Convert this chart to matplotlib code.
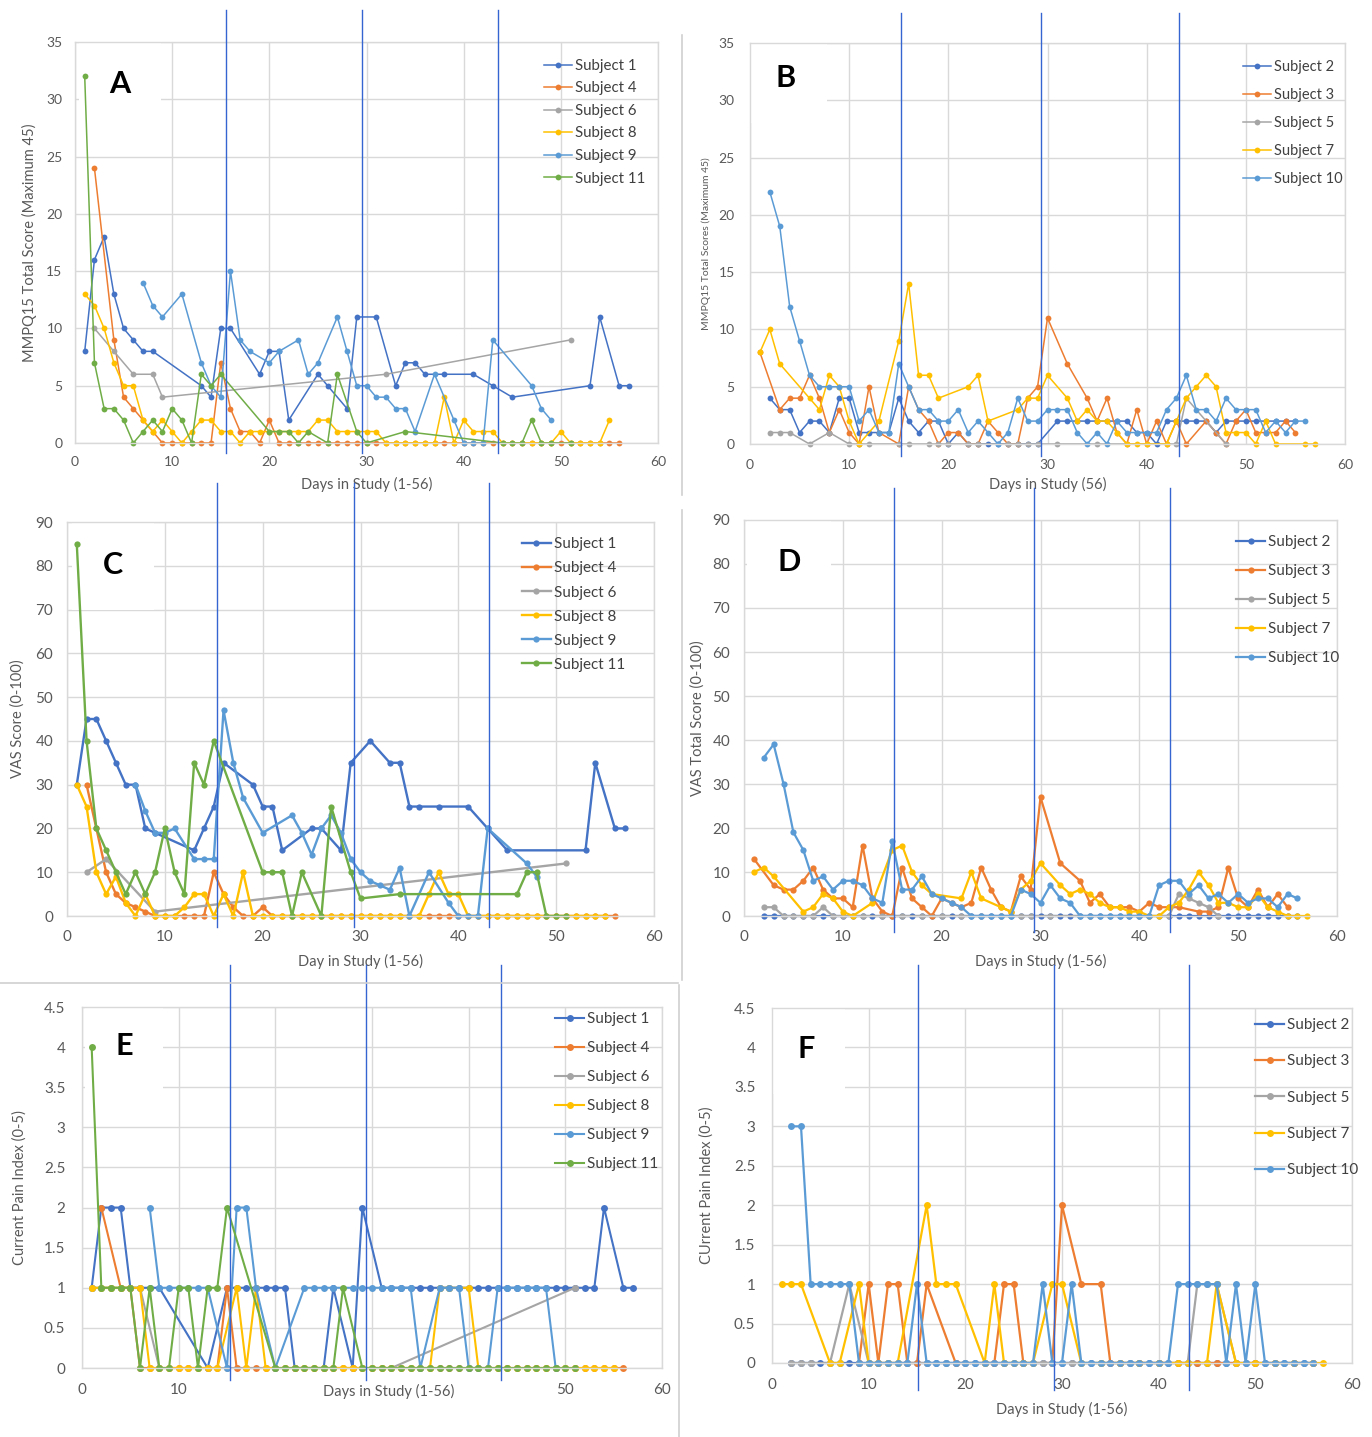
"""Six-panel daily pain score chart (MMPQ15, VAS, Current Pain Index) by subject."""

import matplotlib
matplotlib.use("Agg")
from matplotlib import pyplot as plt
from matplotlib.lines import Line2D

plt.rcParams["font.family"] = ["Lato", "DejaVu Sans"]

# ---- data: (day, value) pairs ----------------------------------------------
# Panel A: MMPQ15, group 1
A_S1 = [(1, 8), (2, 16), (3, 18), (4, 13), (5, 10), (6, 9), (7, 8), (8, 8), (13, 5), (14, 4),
        (15, 10), (16, 10), (19, 6), (20, 8), (21, 8), (22, 2), (25, 6), (26, 5), (28, 3),
        (29, 11), (31, 11), (33, 5), (34, 7), (35, 7), (36, 6), (38, 6), (41, 6), (43, 5),
        (45, 4), (53, 5), (54, 11), (56, 5), (57, 5)]
A_S4 = [(2, 24), (4, 9), (5, 4), (6, 3), (7, 2), (8, 1), (9, 0), (10, 0), (11, 0), (12, 0),
        (13, 0), (14, 0), (15, 7), (16, 3), (17, 1), (18, 1), (19, 0), (20, 2), (21, 0), (22, 0),
        (23, 0), (24, 0), (25, 0), (26, 0), (27, 0), (28, 0), (29, 0), (30, 0), (31, 0), (32, 0),
        (33, 0), (34, 0), (35, 0), (36, 0), (37, 0), (38, 0), (39, 0), (40, 0), (41, 0), (42, 0),
        (43, 0), (44, 0), (45, 0), (46, 0), (47, 0), (48, 0), (49, 0), (50, 0), (51, 0), (52, 0),
        (53, 0), (54, 0), (55, 0), (56, 0)]
A_S6 = [(2, 10), (4, 8), (6, 6), (8, 6), (9, 4), (32, 6), (51, 9)]
A_S8 = [(1, 13), (2, 12), (3, 10), (4, 7), (5, 5), (6, 5), (7, 2), (8, 1), (9, 2), (10, 1),
        (11, 0), (12, 1), (13, 2), (14, 2), (15, 1), (16, 1), (17, 0), (18, 1), (19, 1), (20, 1),
        (21, 1), (22, 1), (23, 1), (24, 1), (25, 2), (26, 2), (27, 1), (28, 1), (29, 1), (30, 1),
        (31, 1), (32, 0), (33, 0), (34, 0), (35, 0), (36, 0), (37, 0), (38, 4), (39, 0), (40, 2),
        (41, 1), (42, 1), (43, 1), (44, 0), (45, 0), (46, 0), (47, 0), (48, 0), (49, 0), (50, 1),
        (51, 0), (52, 0), (53, 0), (54, 0), (55, 2)]
A_S9 = [(7, 14), (8, 12), (9, 11), (11, 13), (13, 7), (14, 5), (15, 4), (16, 15), (17, 9),
        (18, 8), (20, 7), (21, 8), (23, 9), (24, 6), (25, 7), (27, 11), (28, 8), (29, 5), (30, 5),
        (31, 4), (32, 4), (33, 3), (34, 3), (35, 1), (37, 6), (39, 2), (40, 0), (41, 0), (42, 0),
        (43, 9), (47, 5), (48, 3), (49, 2)]
A_S11 = [(1, 32), (2, 7), (3, 3), (4, 3), (5, 2), (6, 0), (7, 1), (8, 2), (9, 1), (10, 3),
         (11, 2), (12, 0), (13, 6), (14, 5), (15, 6), (20, 1), (21, 1), (22, 1), (23, 0), (24, 1),
         (26, 0), (27, 6), (29, 1), (30, 0), (34, 1), (44, 0), (45, 0), (46, 0), (47, 2), (48, 0),
         (49, 0), (51, 0)]

# Panel B: MMPQ15, group 2
B_S2 = [(2, 4), (3, 3), (4, 3), (5, 1), (6, 2), (7, 2), (8, 1), (9, 4), (10, 4), (11, 1),
        (12, 1), (13, 1), (14, 1), (15, 4), (16, 2), (17, 1), (18, 2), (19, 2), (20, 0), (21, 1),
        (22, 0), (23, 0), (24, 0), (25, 0), (26, 0), (27, 0), (28, 0), (29, 0), (31, 2), (32, 2),
        (33, 2), (34, 2), (35, 2), (36, 2), (37, 2), (38, 2), (39, 1), (40, 1), (41, 0), (42, 2),
        (43, 2), (44, 2), (45, 2), (46, 2), (47, 1), (48, 2), (49, 2), (50, 2), (51, 2), (52, 2),
        (53, 2), (54, 2), (55, 2)]
B_S3 = [(1, 8), (3, 3), (4, 4), (5, 4), (6, 6), (7, 4), (8, 1), (9, 3), (10, 1), (11, 0),
        (12, 5), (13, 1), (15, 0), (16, 5), (17, 3), (18, 2), (19, 0), (20, 1), (21, 1), (22, 0),
        (23, 0), (24, 2), (25, 1), (26, 0), (27, 0), (28, 4), (29, 5), (30, 11), (32, 7), (34, 4),
        (35, 2), (36, 4), (37, 1), (38, 0), (39, 3), (40, 0), (41, 2), (42, 0), (43, 2), (44, 0),
        (46, 2), (47, 1), (48, 0), (49, 2), (50, 3), (51, 1), (52, 1), (53, 1), (54, 2), (55, 1)]
B_S5 = [(2, 1), (3, 1), (4, 1), (6, 0), (8, 1), (10, 0), (11, 0), (12, 0), (15, 0), (16, 0),
        (18, 0), (19, 0), (20, 0), (22, 0), (23, 0), (26, 0), (27, 0), (28, 0), (29, 0), (31, 0),
        (35, 0), (43, 0), (44, 4), (48, 0)]
B_S7 = [(1, 8), (2, 10), (3, 7), (6, 4), (7, 3), (8, 6), (9, 5), (10, 2), (11, 0), (13, 2),
        (15, 9), (16, 14), (17, 6), (18, 6), (19, 4), (22, 5), (23, 6), (24, 2), (27, 3), (28, 4),
        (29, 4), (30, 6), (32, 4), (33, 2), (34, 3), (35, 2), (36, 2), (37, 1), (38, 0), (39, 0),
        (40, 0), (42, 0), (43, 2), (44, 4), (45, 5), (46, 6), (47, 5), (48, 1), (49, 1), (50, 1),
        (51, 0), (52, 2), (53, 0), (56, 0), (57, 0)]
B_S10 = [(2, 22), (3, 19), (4, 12), (5, 9), (6, 6), (7, 5), (8, 5), (9, 5), (10, 5), (11, 2),
         (12, 3), (13, 1), (14, 1), (15, 7), (16, 5), (17, 3), (18, 3), (19, 2), (20, 2), (21, 3),
         (22, 1), (23, 2), (24, 1), (25, 0), (26, 1), (27, 4), (28, 2), (29, 2), (30, 3), (31, 3),
         (32, 3), (33, 1), (34, 0), (35, 1), (36, 0), (37, 2), (38, 1), (39, 1), (40, 1), (41, 1),
         (42, 3), (43, 4), (44, 6), (45, 3), (46, 3), (47, 2), (48, 4), (49, 3), (50, 3), (51, 3),
         (52, 1), (53, 2), (54, 1), (55, 2), (56, 2)]

# Panel C: VAS, group 1
C_S1 = [(1, 30), (2, 45), (3, 45), (4, 40), (5, 35), (6, 30), (7, 30), (8, 20), (9, 19),
        (13, 15), (14, 20), (15, 25), (16, 35), (19, 30), (20, 25), (21, 25), (22, 15), (25, 20),
        (26, 20), (28, 15), (29, 35), (31, 40), (33, 35), (34, 35), (35, 25), (36, 25), (38, 25),
        (41, 25), (43, 20), (45, 15), (53, 15), (54, 35), (56, 20), (57, 20)]
C_S4 = [(2, 30), (3, 20), (4, 10), (5, 5), (6, 3), (7, 2), (8, 1), (9, 0), (10, 0), (11, 0),
        (12, 0), (13, 0), (14, 0), (15, 10), (16, 5), (17, 2), (18, 0), (19, 0), (20, 2), (21, 0),
        (22, 0), (23, 0), (24, 0), (25, 0), (26, 0), (27, 0), (28, 0), (29, 0), (30, 0), (31, 0),
        (32, 0), (33, 0), (34, 0), (35, 0), (36, 0), (37, 0), (38, 0), (39, 0), (40, 0), (41, 0),
        (42, 0), (43, 0), (44, 0), (45, 0), (46, 0), (47, 0), (48, 0), (49, 0), (50, 0), (51, 0),
        (52, 0), (53, 0), (54, 0), (55, 0), (56, 0)]
C_S6 = [(2, 10), (4, 13), (9, 1), (51, 12)]
C_S8 = [(1, 30), (2, 25), (3, 10), (4, 5), (5, 9), (6, 3), (7, 0), (8, 5), (9, 0), (10, 0),
        (11, 0), (12, 2), (13, 5), (14, 5), (15, 0), (16, 5), (17, 0), (18, 10), (19, 0), (20, 0),
        (21, 0), (22, 0), (23, 0), (24, 0), (25, 0), (26, 0), (27, 0), (28, 0), (29, 0), (30, 0),
        (31, 0), (32, 0), (33, 0), (34, 0), (35, 0), (36, 0), (37, 5), (38, 10), (39, 5), (40, 5),
        (41, 0), (42, 0), (43, 0), (44, 0), (45, 0), (46, 0), (47, 0), (48, 0), (49, 0), (50, 0),
        (51, 0), (52, 0), (53, 0), (54, 0), (55, 0)]
C_S9 = [(7, 30), (8, 24), (9, 19), (10, 19), (11, 20), (13, 13), (14, 13), (15, 13), (16, 47),
        (17, 35), (18, 27), (20, 19), (23, 23), (24, 19), (25, 14), (26, 20), (27, 23), (28, 19),
        (29, 13), (30, 10), (31, 8), (32, 7), (33, 6), (34, 11), (35, 0), (37, 10), (39, 3),
        (40, 0), (41, 0), (42, 0), (43, 20), (47, 12), (48, 9)]
C_S11 = [(1, 85), (2, 40), (3, 20), (4, 15), (5, 10), (6, 5), (7, 10), (8, 5), (9, 10), (10, 20),
         (11, 10), (12, 5), (13, 35), (14, 30), (15, 40), (20, 10), (21, 10), (22, 10), (23, 0),
         (24, 10), (26, 0), (27, 25), (29, 10), (30, 4), (34, 5), (46, 5), (47, 10), (48, 10),
         (49, 0), (50, 0), (51, 0)]

# Panel D: VAS, group 2
D_S2 = [(2, 0), (3, 0), (4, 0), (5, 0), (6, 0), (7, 0), (8, 0), (9, 0), (10, 0), (11, 0),
        (12, 0), (13, 0), (14, 0), (15, 0), (16, 0), (17, 0), (18, 0), (19, 0), (20, 0), (21, 0),
        (22, 0), (23, 0), (24, 0), (25, 0), (26, 0), (27, 0), (28, 0), (29, 0), (30, 0), (31, 0),
        (32, 0), (33, 0), (34, 0), (35, 0), (36, 0), (37, 0), (38, 0), (39, 0), (40, 0), (41, 0),
        (42, 0), (43, 0), (44, 0), (45, 0), (46, 0), (47, 0), (48, 0), (49, 0), (50, 0), (51, 0),
        (52, 0), (53, 0), (54, 0), (55, 0), (56, 0)]
D_S3 = [(1, 13), (3, 7), (4, 6), (5, 6), (6, 8), (7, 11), (8, 6), (9, 4), (10, 4), (11, 2),
        (12, 16), (13, 4), (14, 1), (15, 0), (16, 11), (17, 4), (18, 2), (19, 0), (20, 4), (21, 3),
        (22, 2), (23, 3), (24, 11), (25, 6), (26, 2), (27, 1), (28, 9), (29, 6), (30, 27), (32, 12),
        (34, 8), (35, 3), (36, 5), (37, 2), (38, 2), (39, 2), (40, 1), (41, 3), (42, 2), (43, 2),
        (44, 2), (46, 1), (47, 1), (48, 2), (49, 11), (50, 4), (51, 2), (52, 6), (53, 2), (54, 5),
        (55, 2)]
D_S5 = [(2, 2), (3, 2), (4, 0), (5, 0), (6, 0), (7, 0), (8, 2), (9, 0), (10, 0), (12, 0),
        (14, 0), (16, 0), (18, 0), (20, 0), (22, 0), (24, 0), (26, 0), (28, 0), (29, 0), (31, 0),
        (35, 0), (40, 0), (43, 0), (44, 5), (45, 4), (46, 3), (47, 2), (48, 0)]
D_S7 = [(1, 10), (2, 11), (3, 9), (6, 1), (7, 2), (8, 5), (9, 4), (10, 1), (11, 0), (13, 3),
        (15, 15), (16, 16), (17, 10), (18, 7), (19, 5), (22, 4), (23, 10), (24, 4), (26, 2),
        (27, 1), (28, 6), (29, 8), (30, 12), (32, 7), (33, 5), (34, 6), (35, 5), (36, 3), (37, 2),
        (38, 2), (39, 1), (40, 1), (41, 0), (42, 0), (43, 2), (44, 3), (45, 6), (46, 10), (47, 7),
        (48, 3), (49, 3), (50, 2), (51, 2), (52, 5), (53, 2), (54, 1), (55, 0), (56, 0), (57, 0)]
D_S10 = [(2, 36), (3, 39), (4, 30), (5, 19), (6, 15), (7, 8), (8, 9), (9, 6), (10, 8), (11, 8),
         (12, 7), (13, 4), (14, 3), (15, 17), (16, 6), (17, 6), (18, 9), (19, 5), (20, 4), (21, 3),
         (22, 2), (23, 0), (24, 0), (25, 0), (26, 0), (27, 0), (28, 6), (29, 5), (30, 3), (31, 7),
         (32, 4), (33, 3), (34, 0), (35, 0), (36, 0), (37, 0), (38, 0), (39, 0), (40, 0), (41, 0),
         (42, 7), (43, 8), (44, 8), (45, 5), (46, 7), (47, 4), (48, 5), (49, 3), (50, 5), (51, 3),
         (52, 4), (53, 4), (54, 2), (55, 5), (56, 4)]

# Panel E: Current Pain Index, group 1
E_S1 = [(1, 1), (2, 2), (3, 2), (4, 2), (5, 1), (6, 1), (7, 1), (8, 1), (13, 0), (15, 1),
        (16, 1), (17, 1), (18, 1), (19, 1), (20, 1), (21, 1), (22, 0), (25, 0), (26, 1), (28, 0),
        (29, 2), (31, 1), (32, 1), (33, 1), (34, 1), (35, 1), (36, 1), (37, 1), (38, 1), (39, 1),
        (40, 1), (41, 1), (42, 1), (43, 1), (44, 1), (45, 1), (46, 1), (47, 1), (48, 1), (49, 1),
        (50, 1), (51, 1), (52, 1), (53, 1), (54, 2), (56, 1), (57, 1)]
E_S4 = [(2, 2), (4, 1), (5, 1), (6, 0), (7, 0), (8, 0), (9, 0), (10, 0), (11, 0), (12, 0),
        (13, 0), (14, 0), (15, 1), (16, 0), (17, 0), (18, 0), (19, 0), (20, 0), (21, 0), (22, 0),
        (23, 0), (24, 0), (25, 0), (26, 0), (27, 0), (28, 0), (29, 0), (30, 0), (31, 0), (32, 0),
        (33, 0), (34, 0), (35, 0), (36, 0), (37, 0), (38, 0), (39, 0), (40, 0), (41, 0), (42, 0),
        (43, 0), (44, 0), (45, 0), (46, 0), (47, 0), (48, 0), (49, 0), (50, 0), (51, 0), (52, 0),
        (53, 0), (54, 0), (55, 0), (56, 0)]
E_S6 = [(1, 1), (2, 1), (3, 1), (4, 1), (5, 1), (6, 1), (8, 0), (13, 0), (15, 0), (32, 0),
        (51, 1)]
E_S8 = [(1, 1), (2, 1), (3, 1), (4, 1), (5, 1), (6, 1), (7, 0), (8, 0), (9, 0), (10, 0),
        (11, 0), (12, 0), (13, 0), (14, 0), (16, 1), (17, 0), (18, 1), (19, 0), (20, 0), (21, 0),
        (22, 0), (23, 0), (24, 0), (25, 0), (26, 0), (27, 0), (28, 0), (29, 0), (30, 0), (31, 0),
        (32, 0), (33, 0), (34, 0), (35, 0), (36, 0), (37, 1), (38, 1), (40, 1), (41, 0), (42, 0),
        (43, 0), (44, 0), (45, 0), (46, 0), (47, 0), (48, 0), (49, 0), (50, 0), (51, 0), (52, 0),
        (53, 0), (54, 0), (55, 0)]
E_S9 = [(7, 2), (8, 1), (9, 1), (10, 1), (11, 1), (12, 1), (13, 1), (15, 0), (16, 2), (17, 2),
        (18, 1), (20, 0), (23, 1), (24, 1), (25, 1), (26, 1), (28, 1), (29, 1), (30, 1), (31, 1),
        (32, 1), (33, 1), (34, 1), (35, 0), (37, 1), (38, 1), (39, 1), (40, 0), (41, 0), (42, 0),
        (43, 1), (44, 1), (45, 1), (46, 1), (47, 1), (48, 1), (49, 0)]
E_S11 = [(1, 4), (2, 1), (3, 1), (4, 1), (5, 1), (6, 0), (7, 1), (8, 0), (9, 0), (10, 1),
         (11, 1), (12, 0), (13, 1), (14, 1), (15, 2), (20, 0), (21, 0), (22, 0), (23, 0), (24, 0),
         (25, 0), (26, 0), (27, 1), (29, 0), (30, 0), (31, 0), (32, 0), (33, 0), (34, 0), (35, 0),
         (36, 0), (37, 0), (38, 0), (39, 0), (40, 0), (41, 0), (42, 0), (43, 0), (44, 0), (45, 0),
         (46, 0), (47, 0), (48, 0), (49, 0), (50, 0), (51, 0)]

# Panel F: Current Pain Index, group 2
F_S2 = [(2, 0), (3, 0), (4, 0), (5, 0), (6, 0), (7, 0), (8, 0), (9, 0), (10, 0), (11, 0),
        (12, 0), (13, 0), (14, 0), (15, 0), (16, 0), (17, 0), (18, 0), (19, 0), (20, 0), (21, 0),
        (22, 0), (23, 0), (24, 0), (25, 0), (26, 0), (27, 0), (28, 0), (29, 0), (30, 0), (31, 0),
        (32, 0), (33, 0), (34, 0), (35, 0), (36, 0), (37, 0), (38, 0), (39, 0), (40, 0), (41, 0),
        (42, 0), (43, 0), (44, 0), (45, 0), (46, 0), (47, 0), (48, 0), (49, 0), (50, 0), (51, 0),
        (52, 0), (53, 0), (54, 0), (55, 0), (56, 0)]
F_S3 = [(9, 0), (10, 1), (11, 0), (12, 1), (13, 1), (14, 0), (15, 0), (16, 1), (19, 0), (23, 0),
        (24, 1), (25, 1), (26, 0), (29, 0), (30, 2), (32, 1), (34, 1), (35, 0), (36, 0), (38, 0),
        (40, 0), (42, 0), (44, 0), (46, 0), (48, 0), (50, 0), (52, 0), (54, 0), (56, 0)]
F_S5 = [(2, 0), (3, 0), (4, 0), (6, 0), (8, 1), (10, 0), (12, 0), (14, 0), (16, 0), (18, 0),
        (20, 0), (22, 0), (24, 0), (26, 0), (28, 0), (31, 0), (34, 0), (37, 0), (40, 0), (43, 0),
        (44, 1), (45, 1), (46, 1), (48, 0)]
F_S7 = [(1, 1), (2, 1), (3, 1), (6, 0), (7, 0), (9, 1), (10, 0), (11, 0), (12, 0), (13, 0),
        (16, 2), (17, 1), (18, 1), (19, 1), (22, 0), (23, 1), (24, 0), (25, 0), (26, 0), (27, 0),
        (29, 1), (30, 1), (32, 0), (34, 0), (36, 0), (38, 0), (40, 0), (42, 0), (43, 0), (45, 0),
        (46, 1), (48, 0), (50, 0), (52, 0), (54, 0), (56, 0), (57, 0)]
F_S10 = [(2, 3), (3, 3), (4, 1), (5, 1), (6, 1), (7, 1), (8, 1), (9, 0), (10, 0), (11, 0),
         (12, 0), (13, 0), (14, 0), (15, 1), (16, 0), (17, 0), (18, 0), (19, 0), (20, 0), (21, 0),
         (22, 0), (23, 0), (24, 0), (25, 0), (26, 0), (27, 0), (28, 1), (29, 0), (30, 0), (31, 1),
         (32, 0), (33, 0), (34, 0), (35, 0), (36, 0), (37, 0), (38, 0), (39, 0), (40, 0), (41, 0),
         (42, 1), (43, 1), (44, 1), (45, 1), (46, 1), (47, 0), (48, 1), (49, 0), (50, 1), (51, 0),
         (52, 0), (53, 0), (54, 0), (55, 0), (56, 0)]

GROUP1_LABELS = ["Subject 1", "Subject 4", "Subject 6", "Subject 8", "Subject 9", "Subject 11"]
GROUP2_LABELS = ["Subject 2", "Subject 3", "Subject 5", "Subject 7", "Subject 10"]
GROUP1_COLORS = ["#4472C4", "#ED7D31", "#A5A5A5", "#FFC000", "#5B9BD5", "#70AD47"]
GROUP2_COLORS = ["#4472C4", "#ED7D31", "#A5A5A5", "#FFC000", "#5B9BD5"]

# Phase boundaries (days) drawn as blue vertical lines in every panel
PHASE_A = [15.5, 29.5, 43.5]
PHASE_B = [15.2, 29.3, 43.3]
PHASE_C = [15.3, 29.3, 43.1]
PHASE_D = [15.2, 29.35, 43.1]
PHASE_E = [15.3, 29.4, 43.3]
PHASE_F = [15.1, 29.2, 43.1]

# ---- layout (pixel boxes of the original composite) ------------------------
W, H = 1372, 1437
GRID = "#d9d9d9"
TXT = "#595959"
PHASE_COLOR = "#3565d0"

panels = [
    dict(box=(75, 42, 658, 443), series=[A_S1, A_S4, A_S6, A_S8, A_S9, A_S11],
         labels=GROUP1_LABELS, colors=GROUP1_COLORS, ymax=35, ystep=5, lw=1.1, ms=4.2,
         ylabel="MMPQ15 Total Score (Maximum 45)", ylab_fs=10.5, ylab_x=-0.065,
         xlabel="Days in Study (1-56)", xlab_pos=(0.5, -0.085), tick_fs=10, ypad=9, xpad=9,
         letter="A", letter_px=(120, 84), phases=PHASE_A, phase_px=(10, 453),
         leg=(0.804, 0.958), leg_fs=10.8, leg_sp=0.57),
    dict(box=(750, 43, 1345, 444), series=[B_S2, B_S3, B_S5, B_S7, B_S10],
         labels=GROUP2_LABELS, colors=GROUP2_COLORS, ymax=35, ystep=5, lw=1.1, ms=4.2,
         ylabel="MMPQ15 Total Scores (Maximum 45)", ylab_fs=7.5, ylab_x=-0.066,
         xlabel="Days in Study (56)", xlab_pos=(0.5, -0.082), tick_fs=10, ypad=11, xpad=11,
         letter="B", letter_px=(786, 78), phases=PHASE_B, phase_px=(13, 456),
         leg=(0.829, 0.957), leg_fs=10.5, leg_sp=0.95),
    dict(box=(67, 522, 654, 916), series=[C_S1, C_S4, C_S6, C_S8, C_S9, C_S11],
         labels=GROUP1_LABELS, colors=GROUP1_COLORS, ymax=90, ystep=10, lw=1.7, ms=4.5,
         ylabel="VAS Score (0-100)", ylab_fs=10.5, ylab_x=-0.072,
         xlabel="Day in Study (1-56)", xlab_pos=(0.5, -0.096), tick_fs=11, ypad=10, xpad=10,
         letter="C", letter_px=(113, 565), phases=PHASE_C, phase_px=(483, 927),
         leg=(0.775, 0.961), leg_fs=11, leg_sp=0.66),
    dict(box=(744, 520, 1337, 916), series=[D_S2, D_S3, D_S5, D_S7, D_S10],
         labels=GROUP2_LABELS, colors=GROUP2_COLORS, ymax=90, ystep=10, lw=1.6, ms=4.5,
         ylabel="VAS Total Score (0-100)", ylab_fs=10.5, ylab_x=-0.067,
         xlabel="Days in Study (1-56)", xlab_pos=(0.5, -0.096), tick_fs=11, ypad=10, xpad=10,
         letter="D", letter_px=(789, 562), phases=PHASE_D, phase_px=(488, 932),
         leg=(0.83, 0.962), leg_fs=11, leg_sp=0.98),
    dict(box=(82, 1007, 662, 1368), series=[E_S1, E_S4, E_S6, E_S8, E_S9, E_S11],
         labels=GROUP1_LABELS, colors=GROUP1_COLORS, ymax=4.5, ystep=0.5, lw=1.5, ms=5,
         ylabel="Current Pain Index (0-5)", ylab_fs=10.5, ylab_x=-0.095,
         xlabel="Days in Study (1-56)", xlab_pos=(0.528, -0.044), tick_fs=11, ypad=12, xpad=11,
         letter="E", letter_px=(124, 1046), phases=PHASE_E, phase_px=(965, 1380),
         leg=(0.816, 0.986), leg_fs=11, leg_sp=0.98, hide_xticks=(20, 30, 40)),
    dict(box=(772, 1008, 1352, 1363), series=[F_S2, F_S3, F_S5, F_S7, F_S10],
         labels=GROUP2_LABELS, colors=GROUP2_COLORS, ymax=4.5, ystep=0.5, lw=1.6, ms=5,
         ylabel="CUrrent Pain Index (0-5)", ylab_fs=10.5, ylab_x=-0.1,
         xlabel="Days in Study (1-56)", xlab_pos=(0.5, -0.11), tick_fs=11, ypad=12, xpad=11,
         letter="F", letter_px=(806, 1049), phases=PHASE_F, phase_px=(965, 1390),
         leg=(0.833, 0.972), leg_fs=11, leg_sp=1.46),
]

fig = plt.figure(figsize=(W / 100, H / 100), dpi=100)
fig.patch.set_facecolor("white")

for p in panels:
    left, top, right, bottom = p["box"]
    ax = fig.add_axes([left / W, 1 - bottom / H, (right - left) / W, (bottom - top) / H])
    ax.set_xlim(0, 60)
    ax.set_ylim(0, p["ymax"])
    n_y = int(round(p["ymax"] / p["ystep"]))
    ax.set_yticks([p["ystep"] * i for i in range(n_y + 1)])
    ax.yaxis.set_major_formatter(matplotlib.ticker.FormatStrFormatter("%g"))
    xt = [0, 10, 20, 30, 40, 50, 60]
    ax.set_xticks(xt)
    hidden = p.get("hide_xticks", ())
    ax.set_xticklabels(["" if t in hidden else str(t) for t in xt])
    ax.tick_params(length=0, labelsize=p["tick_fs"], labelcolor=TXT)
    ax.tick_params(axis="y", pad=p["ypad"])
    ax.tick_params(axis="x", pad=p["xpad"])
    ax.grid(True, color=GRID, linewidth=1.0)
    ax.set_axisbelow(True)
    for side in ax.spines.values():
        side.set_color(GRID)
        side.set_linewidth(1.0)

    # white patch behind the panel letter (hides gridlines, sits under the data)
    lx, ly = p["letter_px"]
    ax.text((lx - left) / (right - left), (bottom - ly) / (bottom - top), p["letter"],
            transform=ax.transAxes, ha="center", va="center", fontsize=22,
            fontweight="bold", color="black", zorder=1.5,
            bbox=dict(facecolor="white", edgecolor="none", boxstyle="square,pad=1.0"))

    for pts, lab, col in zip(p["series"], p["labels"], p["colors"]):
        xs = [d for d, _ in pts]
        ys = [v for _, v in pts]
        ax.plot(xs, ys, color=col, lw=p["lw"], marker="o", ms=p["ms"],
                markeredgewidth=0, label=lab, zorder=2, clip_on=False)

    ax.set_ylabel(p["ylabel"], fontsize=p["ylab_fs"], color=TXT)
    ax.yaxis.set_label_coords(p["ylab_x"], 0.5)
    ax.set_xlabel(p["xlabel"], fontsize=10.5, color=TXT)
    ax.xaxis.set_label_coords(*p["xlab_pos"])

    leg = ax.legend(loc="upper left", bbox_to_anchor=p["leg"], frameon=False,
                    fontsize=p["leg_fs"], handlelength=1.9, handletextpad=0.2,
                    labelspacing=p["leg_sp"], borderpad=0, borderaxespad=0)
    for t in leg.get_texts():
        t.set_color("#404040")

    # phase boundaries, running past the plot area as in the original
    y_top, y_bot = p["phase_px"]
    h = bottom - top
    for day in p["phases"]:
        ax.axvline(day, ymin=(bottom - y_bot) / h, ymax=(bottom - y_top) / h,
                   color=PHASE_COLOR, lw=1.0, clip_on=False, zorder=5)

# faint frames between the pasted panels
for x0, y0, x1, y1 in [(682, 35, 682, 495), (682, 510, 682, 980), (0, 983, 678, 983),
                       (679, 985, 679, 1437)]:
    fig.add_artist(Line2D([x0 / W, x1 / W], [1 - y0 / H, 1 - y1 / H], color="#d0d0d0",
                          lw=1.2, transform=fig.transFigure))

fig.savefig("out.png", dpi=100)
